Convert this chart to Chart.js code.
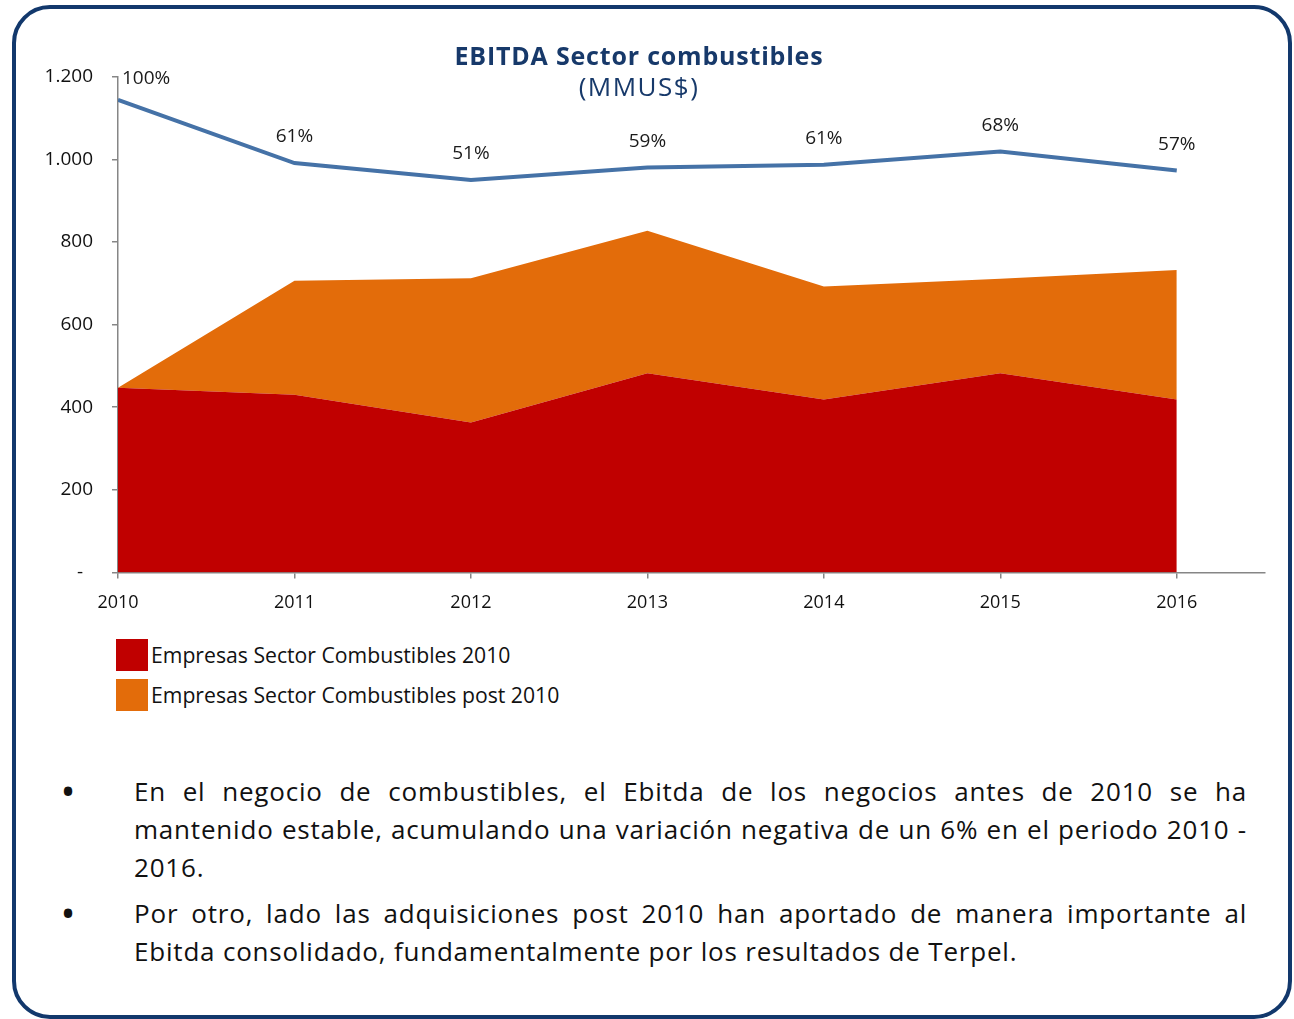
<!DOCTYPE html>
<html><head><meta charset="utf-8">
<script src="https://cdn.jsdelivr.net/npm/chart.js@4"></script>
<style>
html,body{margin:0;padding:0;background:#fff;width:1294px;height:1019px;overflow:hidden;font-family:'Open Sans',Lato,sans-serif;}
#frame{position:absolute;left:12px;top:5px;width:1272px;height:1006px;border:4.5px solid #12386C;border-radius:38px;}
#c{position:absolute;left:0;top:0;}
.title{position:absolute;left:339px;width:600px;text-align:center;color:#17396A;line-height:30px;white-space:nowrap;}
.leg{position:absolute;left:116px;height:32px;}
.leg .sw{position:absolute;left:0;top:0;width:32px;height:32px;}
.leg .tx{position:absolute;left:35px;top:0;line-height:32px;font-size:21.2px;color:#111;white-space:nowrap;}
.ln{position:absolute;left:134px;width:1113px;font-size:26px;letter-spacing:0.8px;line-height:38px;height:38px;color:#111;white-space:nowrap;}
.j{text-align:justify;text-align-last:justify;white-space:normal;}
.b{position:absolute;left:58px;width:20px;text-align:center;font-size:40px;line-height:38px;height:38px;color:#111;}
</style></head>
<body>
<div id="frame"></div>
<canvas id="c" width="1294" height="625"></canvas>
<div class="title" style="top:40px;font-weight:bold;font-size:25px;letter-spacing:0.8px;">EBITDA Sector combustibles</div>
<div class="title" style="top:71px;font-size:26px;letter-spacing:1.5px;">(MMUS$)</div>
<div class="leg" style="top:639px"><div class="sw" style="background:#C00000"></div><div class="tx">Empresas Sector Combustibles 2010</div></div>
<div class="leg" style="top:679px"><div class="sw" style="background:#E36C0A"></div><div class="tx">Empresas Sector Combustibles post 2010</div></div>
<div class="b" style="top:772px">•</div>
<div class="ln j" style="top:772px">En el negocio de combustibles, el Ebitda de los negocios antes de 2010 se ha</div>
<div class="ln j" style="top:810px">mantenido estable, acumulando una variación negativa de un 6% en el periodo 2010 -</div>
<div class="ln" style="top:848px">2016.</div>
<div class="b" style="top:894px">•</div>
<div class="ln j" style="top:894px">Por otro, lado las adquisiciones post 2010 han aportado de manera importante al</div>
<div class="ln" style="top:932px">Ebitda consolidado, fundamentalmente por los resultados de Terpel.</div>
<script>
const years = [2010, 2011, 2012, 2013, 2014, 2015, 2016];
const empresas2010 = [447, 430, 363, 482, 419, 482, 419];
const empresasPost2010 = [0, 276, 349, 345, 273, 229, 313];
const totalSector = [1144, 991, 950, 980, 987, 1019, 973];
const pctLabels = ['100%', '61%', '51%', '59%', '61%', '68%', '57%'];
const yTicks = [0, 200, 400, 600, 800, 1000, 1200];

const toXY = arr => arr.map((v, i) => ({x: years[i], y: v}));
const FONT = "'Open Sans'";
const AXIS = '#868686';

const pctPlugin = {
  id: 'pct',
  afterDatasetsDraw(chart) {
    const meta = chart.getDatasetMeta(2);
    const ctx = chart.ctx;
    ctx.save();
    ctx.font = '19px ' + FONT;
    ctx.fillStyle = '#1a1a1a';
    ctx.textAlign = 'center';
    ctx.textBaseline = 'middle';
    meta.data.forEach((pt, i) => {
      const t = pctLabels[i];
      const w = ctx.measureText(t).width;
      let x = pt.x, y = pt.y - 26;
      const minX = chart.chartArea.left + w / 2 + 4;
      if (x < minX) { x = minX; y = chart.chartArea.top + 2; }
      ctx.fillText(t, x, y);
    });
    ctx.restore();
  }
};

new Chart(document.getElementById('c'), {
  type: 'line',
  data: {
    datasets: [
      {label: 'Empresas Sector Combustibles 2010', data: toXY(empresas2010), stack: 'areas',
       fill: 'origin', backgroundColor: '#C00000', borderColor: 'rgba(0,0,0,0)', borderWidth: 0, pointRadius: 0, tension: 0},
      {label: 'Empresas Sector Combustibles post 2010', data: toXY(empresasPost2010), stack: 'areas',
       fill: '-1', backgroundColor: '#E36C0A', borderColor: 'rgba(0,0,0,0)', borderWidth: 0, pointRadius: 0, tension: 0},
      {label: 'Total', data: toXY(totalSector), stack: 'total', fill: false,
       borderColor: '#4572A7', borderWidth: 4, pointRadius: 0, tension: 0}
    ]
  },
  options: {
    responsive: false,
    devicePixelRatio: 1,
    animation: false,
    layout: {padding: {left: 0, top: 76.7, right: 29, bottom: 12.5}},
    plugins: {legend: {display: false}, tooltip: {enabled: false}, title: {display: false}},
    scales: {
      x: {
        type: 'linear', min: 2010, max: 2016.5,
        afterBuildTicks: s => { s.ticks = years.map(v => ({value: v})); },
        afterFit: s => { s.height = 40; },
        ticks: {callback: v => String(v), font: {family: FONT, size: 18}, color: '#111', padding: 14, maxRotation: 0, autoSkip: false},
        grid: {drawOnChartArea: false, drawTicks: true, tickLength: 6, color: AXIS, lineWidth: 1.5},
        border: {color: AXIS, width: 1.5}
      },
      y: {
        stacked: true, min: 0, max: 1200,
        afterBuildTicks: s => { s.ticks = yTicks.map(v => ({value: v})); },
        afterFit: s => { s.width = 118; },
        ticks: {callback: v => v === 0 ? '-  ' : v.toLocaleString('de-DE'), font: {family: FONT, size: 19}, color: '#111', padding: 19},
        grid: {drawOnChartArea: false, drawTicks: true, tickLength: 6, color: AXIS, lineWidth: 1.5},
        border: {color: AXIS, width: 1.5}
      }
    }
  },
  plugins: [pctPlugin]
});
</script>
</body></html>
